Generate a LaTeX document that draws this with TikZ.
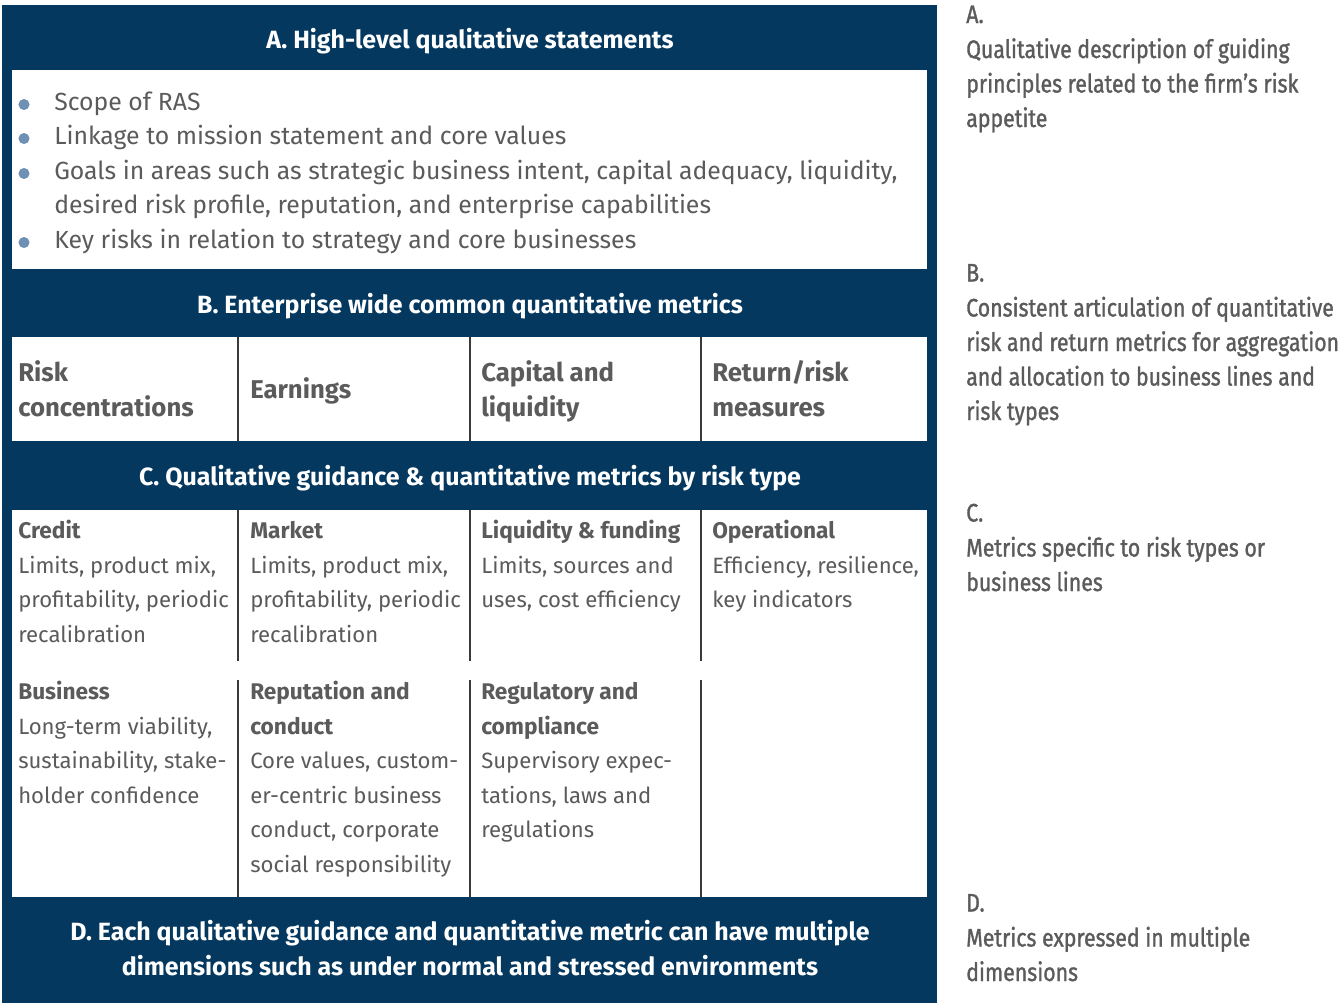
\documentclass[tikz,border=0pt]{standalone}
\usepackage{fontspec}
\setmainfont{Fira Sans}
\newfontfamily\condfont{Fira Sans}[FakeStretch=0.84,FakeBold=1.2]
\definecolor{navy}{HTML}{04385F}
\definecolor{txtgray}{HTML}{5B5B5B}
\definecolor{bulletblue}{HTML}{6E90B5}
\definecolor{rulegray}{HTML}{3A3A3A}
\begin{document}
\begin{tikzpicture}[x=0.75pt,y=-0.75pt,
  body/.style={anchor=base west, inner sep=0pt, text=txtgray, font=\fontsize{16.6}{20}\selectfont},
  lead/.style={anchor=base west, inner sep=0pt, text=txtgray, font=\fontsize{18.6}{22}\selectfont},
  ttl/.style={anchor=base west, inner sep=0pt, text=txtgray, font=\fontsize{17}{20}\selectfont\bfseries},
  big/.style={anchor=base west, inner sep=0pt, text=txtgray, font=\fontsize{19.3}{22}\selectfont\bfseries},
  hdr/.style={anchor=base, inner sep=0pt, text=white, font=\fontsize{18.7}{22}\selectfont\bfseries},
  side/.style={anchor=base west, inner sep=0pt, text=txtgray, font=\condfont\fontsize{19}{22}\selectfont},
  rule/.style={draw=rulegray, line width=0.9pt},
  dot/.style={circle, fill=bulletblue, inner sep=0pt, minimum size=8.3pt}]
\useasboundingbox (0,0) rectangle (1343,1003);
\fill[white] (0,0) rectangle (1343,1003);

% navy frame with the three white panels
\fill[navy] (2,5) rectangle (937,1003);
\fill[white] (12,70) rectangle (927,269);
\fill[white] (12,337) rectangle (927,441);
\fill[white] (12,510) rectangle (927,897);

% column rules
\foreach \x in {238,470,701} {
  \draw[rule] (\x,337) -- (\x,441);
  \draw[rule] (\x,510) -- (\x,661);
  \draw[rule] (\x,680) -- (\x,897);
}

% band headers
\node[hdr] (hA) at (470,48) {A. High-level qualitative statements};
\node[hdr] (hB) at (470,313) {B. Enterprise wide common quantitative metrics};
\node[hdr] (hC) at (470,485) {C. Qualitative guidance \& quantitative metrics by risk type};
\node[hdr] (hD1) at (470,940) {D. Each qualitative guidance and quantitative metric can have multiple};
\node[hdr] (hD2) at (470,975) {dimensions such as under normal and stressed environments};

% section A bullets
\foreach \n/\y in {1/110,2/144,3/179,5/248}
  \node[dot] (b\n) at (24,\y-5.5) {};
\node[lead] (a1) at (54,110) {Scope of RAS};
\node[lead] (a2) at (54,144) {Linkage to mission statement and core values};
\node[lead] (a3) at (54,179) {Goals in areas such as strategic business intent, capital adequacy, liquidity,};
\node[lead] (a4) at (54,213.5) {desired risk profile, reputation, and enterprise capabilities};
\node[lead] (a5) at (54,248) {Key risks in relation to strategy and core businesses};

% section B metrics
\node[big] (m1a) at (18,381) {Risk};
\node[big] (m1b) at (18,416) {concentrations};
\node[big] (m2) at (250,398) {Earnings};
\node[big] (m3a) at (481,381) {Capital and};
\node[big] (m3b) at (481,416) {liquidity};
\node[big] (m4a) at (712,381) {Return/risk};
\node[big] (m4b) at (712,416) {measures};

% section C, first row
\node[ttl]  (c1t) at (18,538) {Credit};
\node[body] (c1a) at (18,573) {Limits, product mix,};
\node[body] (c1b) at (18,607.5) {profitability, periodic};
\node[body] (c1c) at (18,642) {recalibration};
\node[ttl]  (c2t) at (250,538) {Market};
\node[body] (c2a) at (250,573) {Limits, product mix,};
\node[body] (c2b) at (250,607.5) {profitability, periodic};
\node[body] (c2c) at (250,642) {recalibration};
\node[ttl]  (c3t) at (481,538) {Liquidity \& funding};
\node[body] (c3a) at (481,573) {Limits, sources and};
\node[body] (c3b) at (481,607.5) {uses, cost efficiency};
\node[ttl]  (c4t) at (712,538) {Operational};
\node[body] (c4a) at (712,573) {Efficiency, resilience,};
\node[body] (c4b) at (712,607.5) {key indicators};

% section C, second row
\node[ttl]  (d1t) at (18,699) {Business};
\node[body] (d1a) at (18,734) {Long-term viability,};
\node[body] (d1b) at (18,768.5) {sustainability, stake-};
\node[body] (d1c) at (18,803) {holder confidence};
\node[ttl]  (d2t) at (250,699) {Reputation and};
\node[ttl]  (d2u) at (250,734) {conduct};
\node[body] (d2a) at (250,768.5) {Core values, custom-};
\node[body] (d2b) at (250,803) {er-centric business};
\node[body] (d2c) at (250,837.5) {conduct, corporate};
\node[body] (d2d) at (250,872) {social responsibility};
\node[ttl]  (d3t) at (481,699) {Regulatory and};
\node[ttl]  (d3u) at (481,734) {compliance};
\node[body] (d3a) at (481,768.5) {Supervisory expec-};
\node[body] (d3b) at (481,803) {tations, laws and};
\node[body] (d3c) at (481,837.5) {regulations};

% side notes
\node[side] (sA)  at (966,23) {A.};
\node[side] (sA1) at (966,58) {Qualitative description of guiding};
\node[side] (sA2) at (966,92.5) {principles related to the firm’s risk};
\node[side] (sA3) at (966,127) {appetite};
\node[side] (sB)  at (966,281.5) {B.};
\node[side] (sB1) at (966,316.5) {Consistent articulation of quantitative};
\node[side] (sB2) at (966,351) {risk and return metrics for aggregation};
\node[side] (sB3) at (966,385.5) {and allocation to business lines and};
\node[side] (sB4) at (966,420) {risk types};
\node[side] (sC)  at (966,521.5) {C.};
\node[side] (sC1) at (966,556.5) {Metrics specific to risk types or};
\node[side] (sC2) at (966,591) {business lines};
\node[side] (sD)  at (966,911.5) {D.};
\node[side] (sD1) at (966,946.5) {Metrics expressed in multiple};
\node[side] (sD2) at (966,981) {dimensions};
\end{tikzpicture}
\end{document}
